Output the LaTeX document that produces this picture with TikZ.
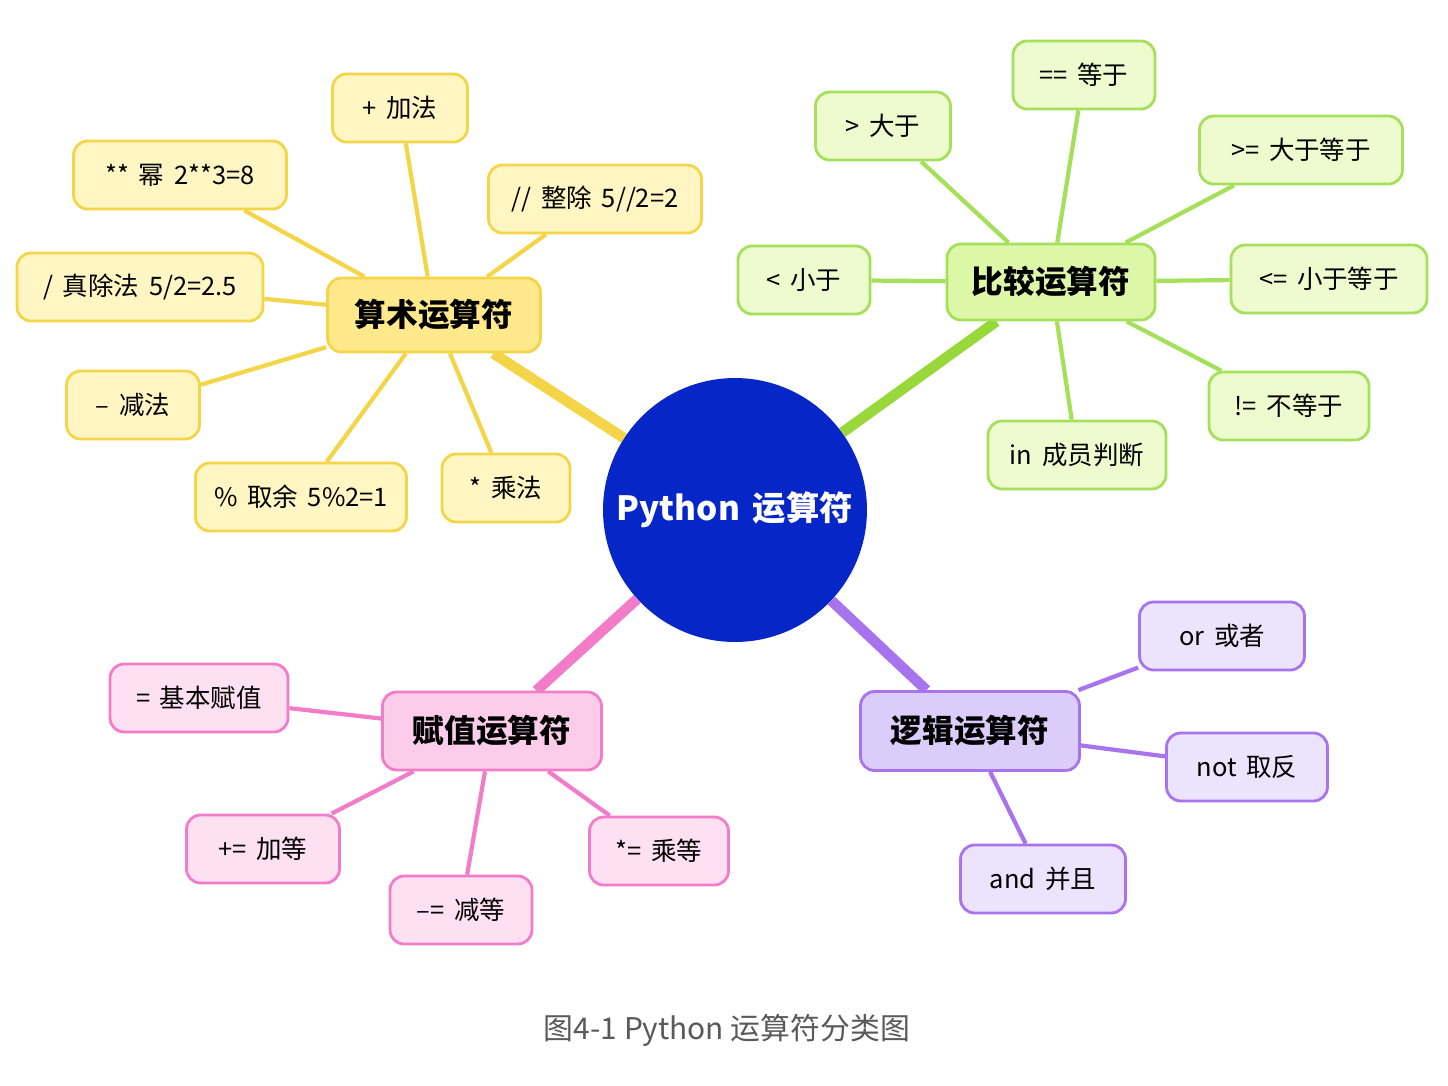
\documentclass[tikz,border=0pt]{standalone}
\usepackage{fontspec}
\setmainfont{Noto Sans CJK SC}[WordSpace=1.7]
\newfontfamily\capfont{Noto Sans CJK SC}
\usetikzlibrary{backgrounds}
\definecolor{ybg}{HTML}{FFF6C4}\definecolor{ybd}{HTML}{F5D548}\definecolor{ycat}{HTML}{FFE98A}
\definecolor{gbg}{HTML}{EEFBCF}\definecolor{gbd}{HTML}{A5E05A}\definecolor{gcat}{HTML}{DDF7A8}
\definecolor{gthk}{HTML}{98D83A}
\definecolor{pbg}{HTML}{FDE0F2}\definecolor{pbd}{HTML}{F37CC8}\definecolor{pcat}{HTML}{FCCDEB}
\definecolor{ubg}{HTML}{ECE3FC}\definecolor{ubd}{HTML}{A874EE}\definecolor{ucat}{HTML}{DCCCFA}
\definecolor{cblue}{HTML}{0626C8}
\tikzset{
 box/.style={rounded corners=8pt,line width=1.6pt,inner sep=0pt,minimum height=1.36cm,font=\fontsize{14.5}{16}\selectfont},
 cat/.style={box,font=\fontsize{18}{20}\selectfont\bfseries},
 yl/.style={box,fill=ybg,draw=ybd}, yc/.style={cat,fill=ycat,draw=ybd},
 gl/.style={box,fill=gbg,draw=gbd}, gc/.style={cat,fill=gcat,draw=gbd},
 pl/.style={box,fill=pbg,draw=pbd}, pc/.style={cat,fill=pcat,draw=pbd},
 ul/.style={box,fill=ubg,draw=ubd}, uc/.style={cat,fill=ucat,draw=ubd},
 thin/.style={line width=2.4pt}, thick/.style={line width=6pt},
}
\begin{document}
\begin{tikzpicture}[x=0.02cm,y=-0.02cm]
\useasboundingbox (0,0) rectangle (1448,1086);
\node[circle,fill=cblue,minimum size=5.28cm,inner sep=0pt,text=white,font=\fontsize{19}{22}\selectfont\bfseries] (c) at (735,510) {Python 运算符};
% arithmetic
\node[yc,minimum width=4.26cm,minimum height=1.48cm] (a) at (434,315) {算术运算符};
\node[yl,minimum width=2.7cm] (a1) at (400,108) {+ 加法};
\node[yl,minimum width=4.26cm] (a2) at (180,175) {** 幂 2**3=8};
\node[yl,minimum width=4.26cm] (a3) at (595,199) {// 整除 5//2=2};
\node[yl,minimum width=4.92cm] (a4) at (140,287) {/ 真除法 5/2=2.5};
\node[yl,minimum width=2.66cm] (a5) at (133,405) {– 减法};
\node[yl,minimum width=4.22cm] (a6) at (301,497) {\% 取余 5\%2=1};
\node[yl,minimum width=2.56cm] (a7) at (506,488) {* 乘法};
% comparison
\node[gc,minimum width=4.16cm,minimum height=1.52cm] (b) at (1051,282) {比较运算符};
\node[gl,minimum width=2.7cm] (b1) at (883,126) {> 大于};
\node[gl,minimum width=2.84cm] (b2) at (1084,75) {== 等于};
\node[gl,minimum width=4.06cm] (b3) at (1301,150) {>= 大于等于};
\node[gl,minimum width=2.64cm] (b4) at (804,280) {< 小于};
\node[gl,minimum width=3.92cm] (b5) at (1329,279) {<= 小于等于};
\node[gl,minimum width=3.2cm] (b6) at (1289,406) {!= 不等于};
\node[gl,minimum width=3.56cm] (b7) at (1077,455) {in 成员判断};
% assignment
\node[pc,minimum width=4.38cm,minimum height=1.56cm] (p) at (492,731) {赋值运算符};
\node[pl,minimum width=3.56cm] (p1) at (199,698) {= 基本赋值};
\node[pl,minimum width=3.06cm] (p2) at (263,849) {+= 加等};
\node[pl,minimum width=2.84cm] (p3) at (461,910) {–= 减等};
\node[pl,minimum width=2.78cm] (p4) at (659,851) {*= 乘等};
% logic
\node[uc,minimum width=4.38cm,minimum height=1.58cm] (u) at (970,731) {逻辑运算符};
\node[ul,minimum width=3.3cm] (u1) at (1222,636) {or 或者};
\node[ul,minimum width=3.22cm] (u2) at (1247,767) {not 取反};
\node[ul,minimum width=3.3cm] (u3) at (1043,879) {and 并且};
\node[text=black!65,font=\capfont\fontsize{17}{19}\selectfont] (cap) at (727,1030) {图4-1 Python 运算符分类图};
\begin{scope}[on background layer]
\fill[white] (0,0) rectangle (1448,1086);
\draw[thick,ybd] (c) -- (a);
\draw[thick,gthk] (c) -- (b);
\draw[thick,pbd] (c) -- (p);
\draw[thick,ubd] (c) -- (u);
\foreach \n in {a1,a2,a3,a4,a5,a6,a7} \draw[thin,ybd] (a) -- (\n);
\foreach \n in {b1,b2,b3,b4,b5,b6,b7} \draw[thin,gbd] (b) -- (\n);
\foreach \n in {p1,p2,p3,p4} \draw[thin,pbd] (p) -- (\n);
\foreach \n in {u1,u2,u3} \draw[thin,ubd] (u) -- (\n);
\end{scope}
\end{tikzpicture}
\end{document}
